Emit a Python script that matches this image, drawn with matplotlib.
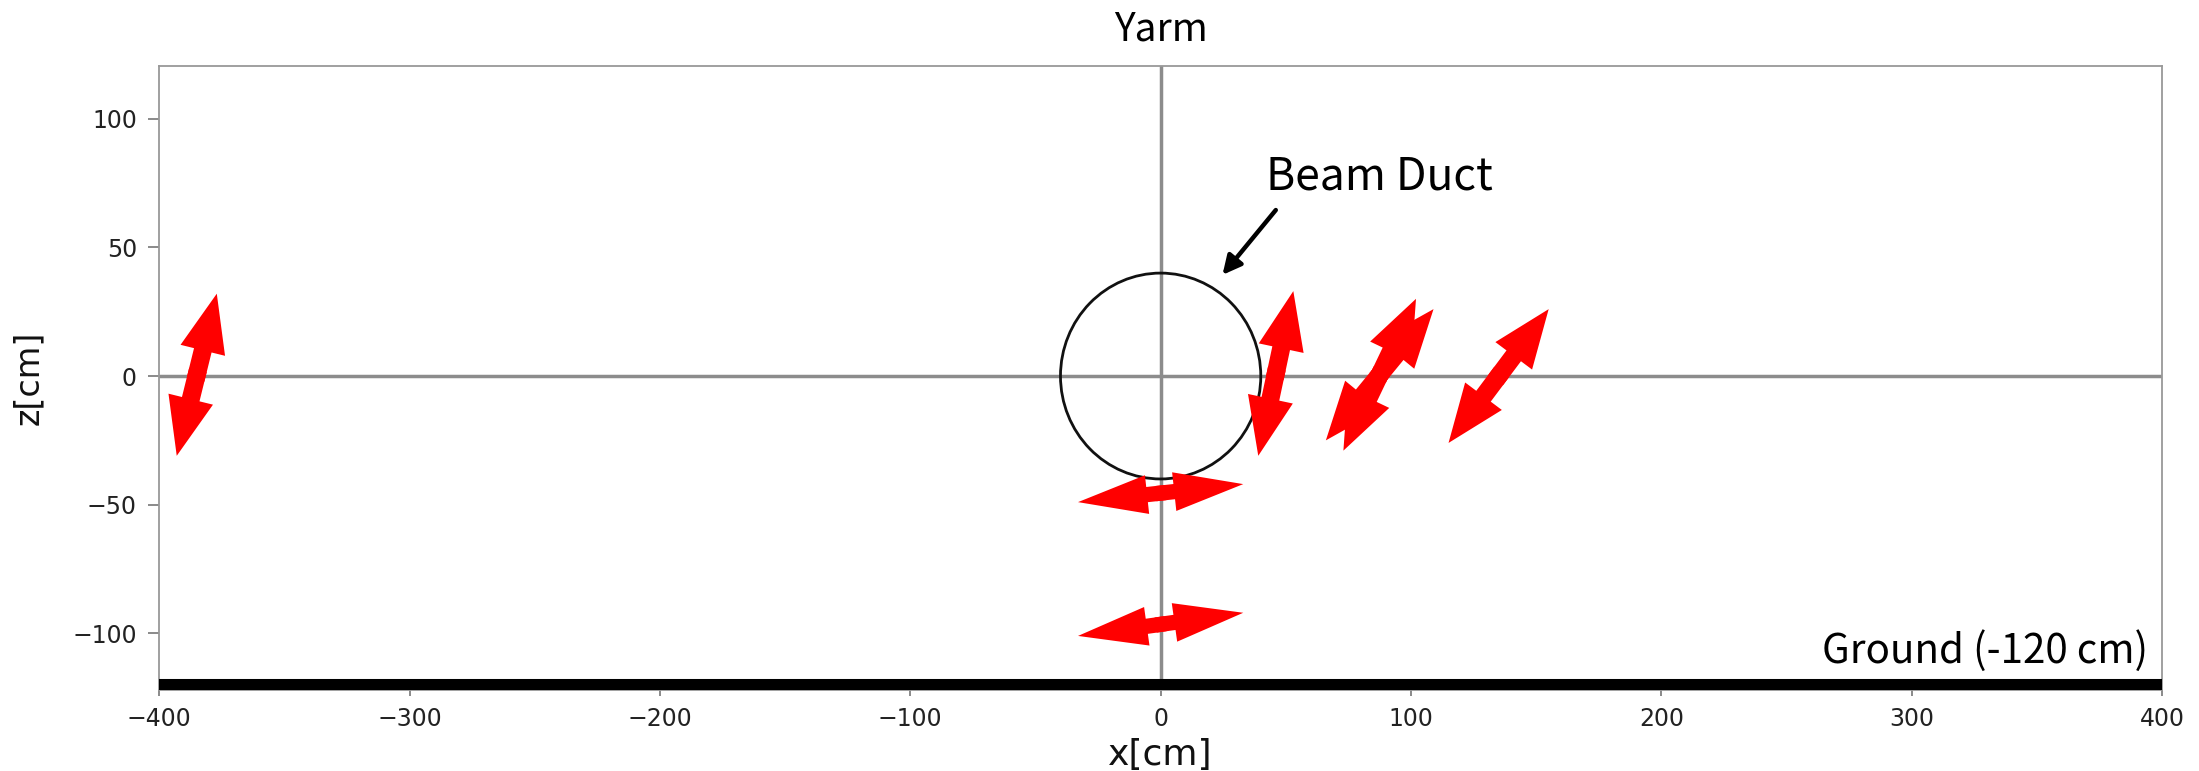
import matplotlib
matplotlib.use('Agg')
import matplotlib.pyplot as plt
from matplotlib.patches import Ellipse, FancyArrowPatch, ArrowStyle

# polarisation arrows: tip A (x0, z0) -> tip B (x1, z1), in cm
arrow_x0 = [-393, 39, 73, 66, 115, -33, -33]
arrow_z0 = [-31, -31, -29, -25, -26, -49, -101]
arrow_x1 = [-377, 53, 102, 109, 155, 33, 33]
arrow_z1 = [32, 33, 30, 26, 26, -42, -92]

duct_radius = 40
ground_z = -120
xticks = [-400, -300, -200, -100, 0, 100, 200, 300, 400]
yticks = [-100, -50, 0, 50, 100]

label_font = 'Noto Sans CJK JP'


def double_arrow(ax, x0, z0, x1, z1, style):
	# two half arrows from (slightly past) the middle out to each tip
	mx = (x0 + x1) / 2.0
	mz = (z0 + z1) / 2.0
	dx = (x1 - x0) * 0.03
	dz = (z1 - z0) * 0.03
	for sx, sz, tx, tz in [(mx - dx, mz - dz, x1, z1), (mx + dx, mz + dz, x0, z0)]:
		p = FancyArrowPatch((sx, sz), (tx, tz), arrowstyle=style, mutation_scale=1,
							shrinkA=0, shrinkB=0, color='red', linewidth=0, zorder=4)
		ax.add_patch(p)


fig = plt.figure(figsize=(21.99, 7.71), dpi=100)
ax = fig.add_axes([0.0724, 0.1051, 0.9108, 0.8097])

ax.set_xlim(-400, 400)
ax.set_ylim(-122, 120.6)

ax.axhline(0, color='#8c8c8c', linewidth=2.5, zorder=1)
ax.axvline(0, color='#8c8c8c', linewidth=2.5, zorder=1)
ax.axhline(ground_z, color='black', linewidth=9.4, zorder=3)

ax.add_patch(Ellipse((0, 0), 2 * duct_radius, 2 * duct_radius, fill=False,
					 edgecolor='#111111', linewidth=2, zorder=2))

tilted = ArrowStyle.Simple(head_length=42, head_width=33, tail_width=13)
flat = ArrowStyle.Simple(head_length=50, head_width=28, tail_width=11)
for x0, z0, x1, z1 in zip(arrow_x0, arrow_z0, arrow_x1, arrow_z1):
	style = flat if abs(z1 - z0) < abs(x1 - x0) else tilted
	double_arrow(ax, x0, z0, x1, z1, style)

ax.annotate('', xy=(24.7, 39.3), xytext=(46, 64.5),
			arrowprops=dict(arrowstyle='-|>', color='black', linewidth=3.2,
							mutation_scale=28, shrinkA=0, shrinkB=0))
ax.text(42, 72.3, 'Beam Duct', fontsize=32, family=[label_font, 'DejaVu Sans'],
		ha='left', va='baseline', color='black')
ax.text(394.5, -111.4, 'Ground (-120 cm)', fontsize=29, family=[label_font, 'DejaVu Sans'],
		ha='right', va='baseline', color='black')

ax.set_title('Yarm', fontsize=28, family=[label_font, 'DejaVu Sans'], pad=18)

ax.set_xticks(xticks)
ax.set_yticks(yticks)
ax.tick_params(axis='x', length=4, width=1.2, color='#777777', labelsize=17,
			   labelcolor='#222222', pad=8)
ax.tick_params(axis='y', length=8, width=1.2, color='#777777', labelsize=17,
			   labelcolor='#222222', pad=8)
for s in ax.spines.values():
	s.set_color('#999999')
	s.set_linewidth(1.3)

ax.set_xlabel('x[cm]', fontsize=26, color='#111111', labelpad=5)
ax.set_ylabel('z[cm]', fontsize=24, color='#111111', labelpad=20)

fig.savefig('out.png', dpi=100)
